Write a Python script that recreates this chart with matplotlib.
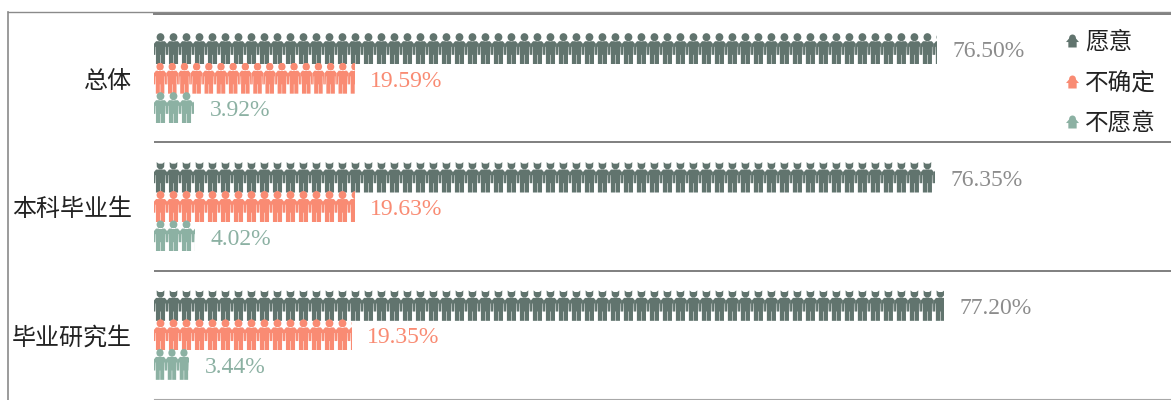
import matplotlib
matplotlib.use("Agg")
import matplotlib.pyplot as plt
from matplotlib.lines import Line2D
from matplotlib.patches import PathPatch, Rectangle
from matplotlib.path import Path
from matplotlib.transforms import Affine2D

plt.rcParams["font.family"] = ["Noto Sans CJK SC", "DejaVu Sans"]

groups = ["总体", "本科毕业生", "毕业研究生"]
series = ["愿意", "不确定", "不愿意"]
willing = [76.50, 76.35, 77.20]
unsure = [19.59, 19.63, 19.35]
unwilling = [3.92, 4.02, 3.44]
# width of one repeated figure, in percent points
tile_willing = [1.27, 1.27, 1.27]
tile_unsure = [1.19, 1.27, 1.27]
tile_unwilling = [1.27, 1.27, 1.17]

colors = ["#61746e", "#f98b73", "#8cb1a3"]
label_colors = ["#8c8c8c", "#f98b73", "#8cb1a3"]

W, H = 1171, 400
X0, X1, Y0, Y1 = 154, 1171, 14, 399
PX_PER_PCT = 10.235
ROW_PX = (Y1 - Y0) / 3
BAR_PX = 31
OFFSETS_PX = [-29.5, 0, 29.5]

BODY = Path(
    [(0.16, 0.74), (0.84, 0.74), (1.0, 0.66), (1.0, 0.30), (0.90, 0.30),
     (0.88, 0.56), (0.85, 0.56), (0.85, 0.0), (0.52, 0.0), (0.52, 0.30),
     (0.48, 0.30), (0.48, 0.0), (0.15, 0.0), (0.15, 0.56), (0.12, 0.56),
     (0.10, 0.30), (0.0, 0.30), (0.0, 0.66), (0.16, 0.74)],
    closed=True,
)
# the circle is squeezed because one tile is much taller than wide
ROUND_HEAD = Path.unit_circle().transformed(Affine2D().scale(0.30, 0.13).translate(0.5, 0.87))
# the head in the lower two groups has its top cut, which leaves two points
CUT_HEAD = Path(
    [(0.2, 0.98), (0.36, 0.93), (0.64, 0.93), (0.8, 0.98), (0.78, 0.82),
     (0.62, 0.75), (0.38, 0.75), (0.22, 0.82), (0.2, 0.98)],
    closed=True,
)
PERSON = Path.make_compound_path(ROUND_HEAD, BODY)
PERSON_CUT = Path.make_compound_path(CUT_HEAD, BODY)

# body runs the same way round as the circle, or the overlap turns into a hole
LEGEND_ICON = Path.make_compound_path(
    Path.unit_circle().transformed(Affine2D().scale(0.26, 0.26).translate(0.5, 0.74)),
    Path(
        [(0.0, 0.42), (0.18, 0.42), (0.18, 0.0), (0.82, 0.0), (0.82, 0.42),
         (1.0, 0.42), (0.78, 0.68), (0.22, 0.68), (0.0, 0.42)],
        closed=True,
    ),
)

fig = plt.figure(figsize=(W / 100, H / 100), dpi=100, facecolor="white")
ax = fig.add_axes([X0 / W, 1 - Y1 / H, (X1 - X0) / W, (Y1 - Y0) / H])
ax.set_xlim(0, (X1 - X0) / PX_PER_PCT)
ax.set_ylim(2.5, -0.5)
ax.set_xticks([])
ax.set_yticks(range(len(groups)))
ax.set_yticklabels(groups, fontsize=17.3, color="#222222")
ax.tick_params(axis="y", length=0, pad=16)
for name in ["left", "right"]:
    ax.spines[name].set_visible(False)
ax.spines["bottom"].set_color("#a8a8a8")
ax.spines["top"].set_color("#7f7f7f")
ax.spines["top"].set_linewidth(1.4)
for y in [0.5, 1.5]:
    ax.axhline(y, color="#7f7f7f", linewidth=1.4)

rows = [
    (willing, tile_willing),
    (unsure, tile_unsure),
    (unwilling, tile_unwilling),
]

for s, (values, tiles) in enumerate(rows):
    for g, value in enumerate(values):
        yc = g + OFFSETS_PX[s] / ROW_PX
        h = BAR_PX / ROW_PX
        clip = Rectangle((0, yc - h / 2), value, h, transform=ax.transData)
        shape = PERSON_CUT if s == 0 and g > 0 else PERSON
        x = 0.0
        while x < value:
            tr = Affine2D().scale(tiles[g], -h).translate(x, yc + h / 2) + ax.transData
            p = PathPatch(shape, facecolor=colors[s], edgecolor="none", transform=tr, zorder=3 + s)
            ax.add_patch(p)
            p.set_clip_path(clip)
            x += tiles[g]
        ax.annotate(
            f"{value:.2f}%", (value, yc), xytext=(11, -2.2), textcoords="offset points",
            va="center", ha="left", fontsize=17, color=label_colors[s],
            family=["Liberation Serif", "DejaVu Sans"],
        )

# outer frame, top and left only
frame = "#8a8a8a"
fig.add_artist(Line2D([8 / W, 8 / W], [0, 1 - 12 / H], color=frame, linewidth=1.2))
fig.add_artist(Line2D([8 / W, 1], [1 - 12 / H, 1 - 12 / H], color=frame, linewidth=1.0))

# legend
for name, color, y in zip(series, colors, [41, 82, 122]):
    fig.add_artist(PathPatch(LEGEND_ICON, facecolor=color, edgecolor="none",
                             transform=Affine2D().scale(13, 13).translate(1066, H - y - 6.5)))
    fig.text(1085 / W, 1 - (y + 1) / H, name, fontsize=17, color="#222222", va="center", ha="left")

fig.savefig("out.png", dpi=100, facecolor="white")
plt.close(fig)
